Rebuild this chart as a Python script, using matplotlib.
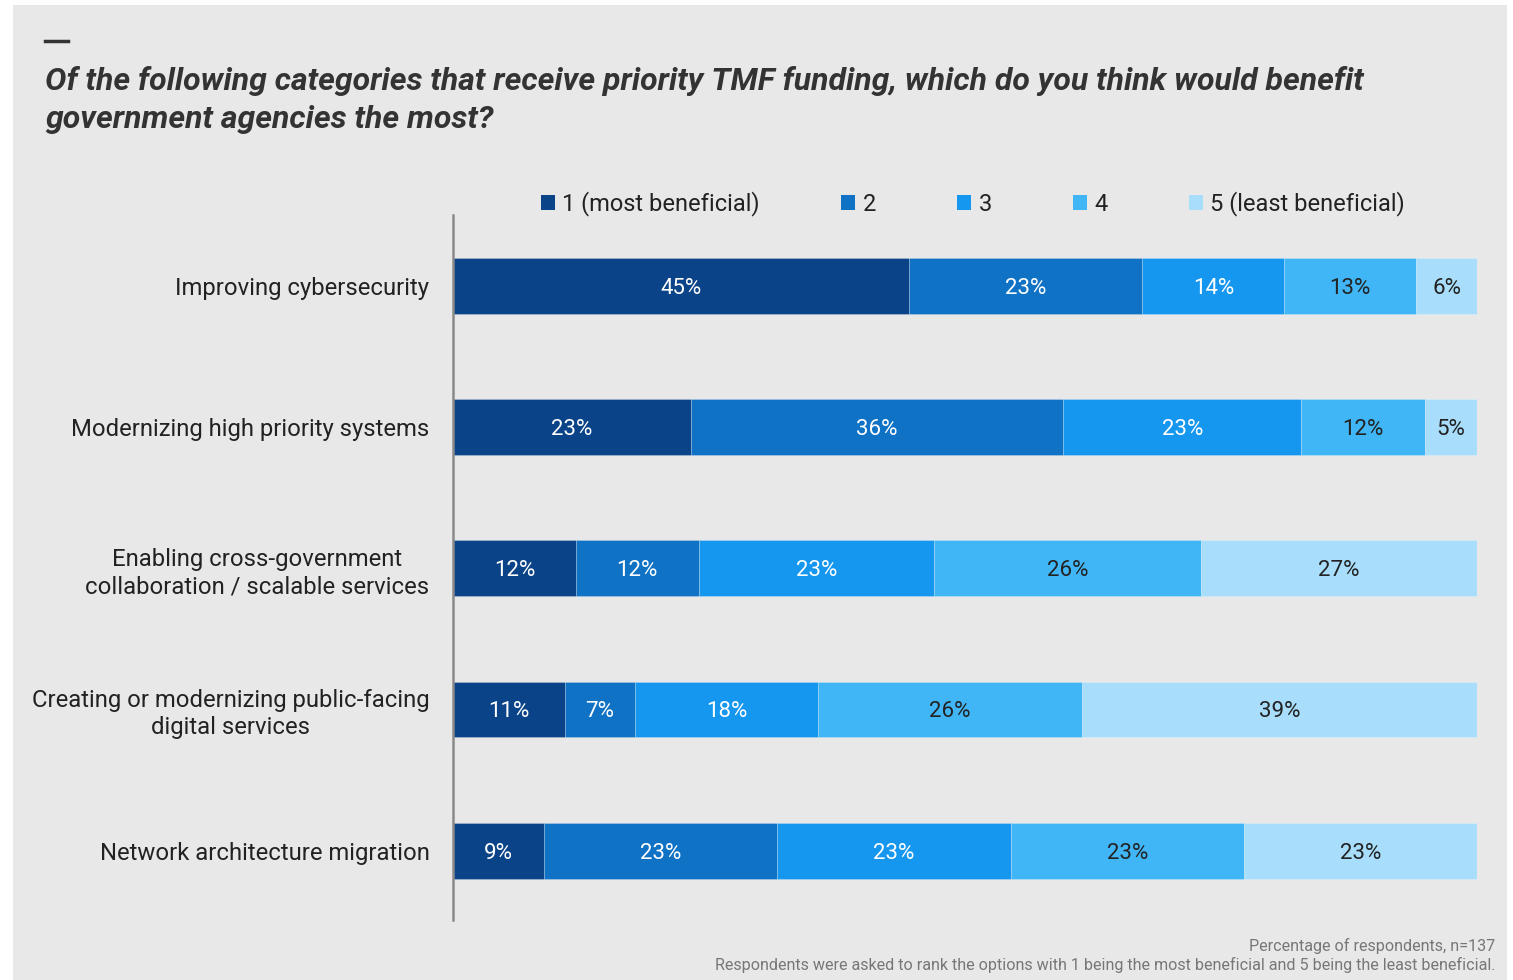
import matplotlib.pyplot as plt
import numpy as np
from matplotlib.patches import Rectangle, Patch
from matplotlib.lines import Line2D

plt.rcParams['font.family'] = ['Roboto', 'DejaVu Sans']

categories = ['Improving cybersecurity',
              'Modernizing high priority systems',
              'Enabling cross-government\ncollaboration / scalable services',
              'Creating or modernizing public-facing\ndigital services',
              'Network architecture migration']
ranks = ['1 (most beneficial)', '2', '3', '4', '5 (least beneficial)']
rank1 = [45, 23, 12, 11, 9]
rank2 = [23, 36, 12, 7, 23]
rank3 = [14, 23, 23, 18, 23]
rank4 = [13, 12, 26, 26, 23]
rank5 = [6, 5, 27, 39, 23]

colors = ['#0b4388', '#0f72c5', '#1697ef', '#41b6f6', '#a8defb']
text_colors = ['white', 'white', 'white', '#222222', '#222222']

series = np.array([rank1, rank2, rank3, rank4, rank5], dtype=float)
totals = series.sum(axis=0)
shares = series / totals * 100

fig = plt.figure(figsize=(15.13, 9.8), dpi=100)
fig.patch.set_facecolor('white')
fig.add_artist(Rectangle((13/1513, 0), 1494/1513, 975/980, transform=fig.transFigure,
                         facecolor='#e8e8e8', edgecolor='none', zorder=-10))
fig.add_artist(Line2D([45/1513, 68/1513], [1-41/980, 1-41/980], transform=fig.transFigure,
                      color='#333333', linewidth=2.5))

ax = fig.add_axes([453/1513, 60/980, 1024/1513, 705/980])
ax.set_facecolor('none')

y = np.arange(len(categories))
left = np.zeros(len(categories))
for i in range(len(ranks)):
    ax.barh(y, shares[i], left=left, height=0.396, color=colors[i],
            edgecolor=(1, 1, 1, 0.25), linewidth=0.6, label=ranks[i])
    for j in range(len(categories)):
        ax.text(left[j] + shares[i][j] / 2, y[j], f'{int(series[i][j])}%',
                ha='center', va='center_baseline', fontsize=16, color=text_colors[i])
    left += shares[i]

ax.set_xlim(0, 100)
ax.set_ylim(4.49, -0.5)
ax.set_yticks(y)
ax.set_yticklabels(categories, fontsize=17.2, color='#222222', linespacing=1.25)
for lbl in ax.get_yticklabels():
    lbl.set_multialignment('center')
ax.tick_params(axis='y', length=0, pad=17)
ax.set_xticks([])
for s in ['top', 'right', 'bottom']:
    ax.spines[s].set_visible(False)
ax.spines['left'].set_color('#8a8a8a')
ax.spines['left'].set_linewidth(1.8)

handles = [Patch(facecolor=c, edgecolor='none') for c in colors]
fig.legend(handles, ranks, loc='center', bbox_to_anchor=(973/1513, 1-204/980),
           ncol=5, frameon=False, fontsize=17, handlelength=0.6, handleheight=0.6,
           handletextpad=0.3, columnspacing=3.45, labelcolor='#222222')

fig.text(45/1513, 1-81/980,
         'Of the following categories that receive priority TMF funding, which do you think would benefit',
         fontsize=23, fontweight='bold', fontstyle='italic', color='#333333', va='center')
fig.text(45/1513, 1-119/980, 'government agencies the most?',
         fontsize=23, fontweight='bold', fontstyle='italic', color='#333333', va='center')

fig.text(1495/1513, 1-946/980, 'Percentage of respondents, n=137',
         fontsize=11.6, color='#777777', ha='right', va='center')
fig.text(1495/1513, 1-965/980,
         'Respondents were asked to rank the options with 1 being the most beneficial and 5 being the least beneficial.',
         fontsize=11.6, color='#777777', ha='right', va='center')

fig.savefig('out.png', dpi=100)
